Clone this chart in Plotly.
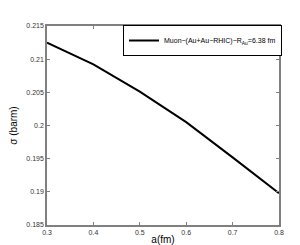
import plotly.graph_objects as go

a_fm = [0.3, 0.4, 0.5, 0.6, 0.7, 0.8]
sigma = [0.2125, 0.2092, 0.2051, 0.2005, 0.1952, 0.1898]
x_ticks = [0.3, 0.4, 0.5, 0.6, 0.7, 0.8]
y_ticks = [0.185, 0.19, 0.195, 0.2, 0.205, 0.21, 0.215]
y_ticklabels = ["0.185", "0.19", "0.195", "0.2", "0.205", "0.21", "0.215"]
series_name = "Muon−(Au+Au−RHIC)−R<sub>Au</sub>=6.38 fm"

fig = go.Figure()
fig.add_trace(go.Scatter(x=a_fm, y=sigma, mode="lines", name=series_name,
                         line=dict(color="black", width=2), showlegend=True))

axis_common = dict(showline=True, linecolor="#808080", linewidth=1.5, mirror="ticks",
                   ticks="inside", ticklen=3, tickcolor="#808080", showgrid=False,
                   zeroline=False, automargin=False,
                   tickfont=dict(family="Liberation Sans, Arial", size=7, color="#333"))

fig.update_layout(
    width=300, height=245,
    margin=dict(l=39, r=29, t=18, b=28),
    paper_bgcolor="white", plot_bgcolor="white",
    font=dict(family="Liberation Sans, Arial", color="black"),
    xaxis=dict(range=[0.3, 0.8], tickvals=x_ticks, ticktext=[str(v) for v in x_ticks],
               title=dict(text="a(fm)", font=dict(size=10), standoff=1), **axis_common),
    yaxis=dict(range=[0.185, 0.215], tickvals=y_ticks, ticktext=y_ticklabels,
               title=dict(text="σ (barm)", font=dict(size=10), standoff=10), **axis_common),
    legend=dict(x=1.013, xanchor="right", y=1.005, yanchor="top", bgcolor="white",
                bordercolor="black", borderwidth=1, font=dict(size=7), itemwidth=30,
                tracegroupgap=0),
)

fig.write_html("out.html")
